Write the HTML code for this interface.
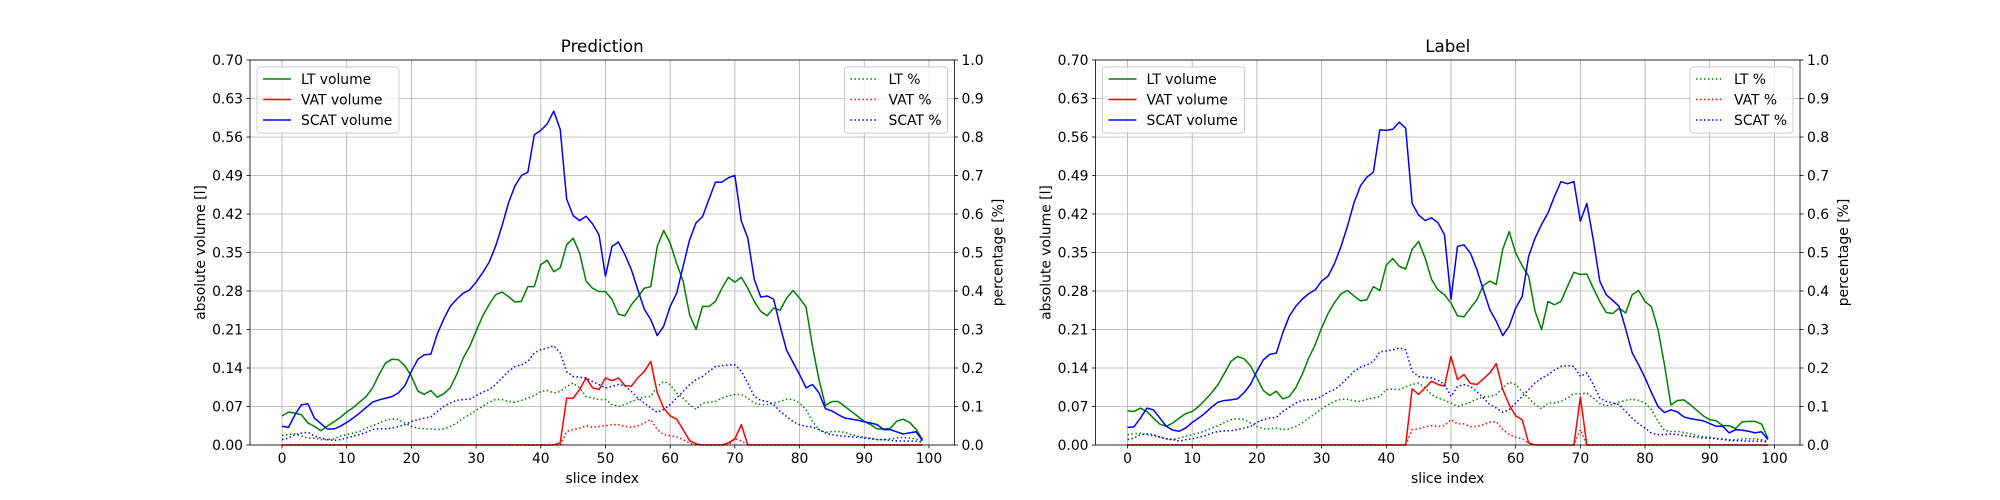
<!DOCTYPE html>
<html><head><meta charset="utf-8">
<style>
html,body{margin:0;padding:0;background:#fff;}
svg{display:block;font-family:"DejaVu Sans","Liberation Sans",sans-serif;}
</style></head>
<body>
<svg id="fig" width="2000" height="500" viewBox="0 0 2000 500" xmlns="http://www.w3.org/2000/svg">
<rect width="2000" height="500" fill="#fff"/>
</svg>
<script>
const sliceCount = 100;
const xTicks = [0,10,20,30,40,50,60,70,80,90,100];
const volTicks = ["0.00","0.07","0.14","0.21","0.28","0.35","0.42","0.49","0.56","0.63","0.70"];
const pctTicks = ["0.0","0.1","0.2","0.3","0.4","0.5","0.6","0.7","0.8","0.9","1.0"];
const panelTitles = ["Prediction","Label"];

const predLTVol = [.053,.060,.058,.055,.040,.034,.026,.034,.042,.050,.060,.068,.078,.088,.104,.128,.149,.156,.155,.144,.125,.098,.092,.099,.087,.093,.104,.128,.158,.179,.207,.234,.255,.273,.278,.270,.260,.261,.288,.288,.328,.336,.315,.322,.364,.376,.349,.298,.285,.279,.279,.265,.238,.235,.255,.269,.285,.288,.361,.390,.367,.330,.298,.237,.210,.252,.252,.261,.285,.305,.296,.305,.285,.261,.243,.235,.249,.245,.267,.281,.267,.251,.179,.119,.072,.079,.079,.070,.061,.052,.043,.037,.029,.029,.030,.043,.047,.041,.029,.010];
const predSCATVol = [.034,.032,.055,.073,.075,.049,.039,.029,.029,.034,.041,.049,.058,.068,.078,.082,.085,.088,.095,.108,.134,.156,.164,.165,.202,.229,.252,.265,.276,.282,.296,.313,.332,.361,.398,.440,.471,.490,.496,.564,.572,.584,.607,.574,.447,.417,.408,.416,.402,.382,.307,.361,.369,.346,.319,.282,.247,.228,.199,.216,.252,.276,.325,.373,.404,.415,.447,.478,.478,.486,.490,.407,.376,.301,.269,.271,.265,.216,.172,.150,.128,.104,.110,.095,.066,.062,.055,.049,.047,.045,.042,.040,.037,.028,.028,.024,.020,.022,.024,.008];
const predVATVol = [0,0,0,0,0,0,0,0,0,0,0,0,0,0,0,0,0,0,0,0,0,0,0,0,0,0,0,0,0,0,0,0,0,0,0,0,0,0,0,0,0,0,0,.004,.085,.085,.101,.122,.104,.101,.122,.117,.122,.108,.107,.122,.134,.152,.095,.067,.053,.047,.028,.008,.002,0,0,0,0,.004,.011,.037,0,0,0,0,0,0,0,0,0,0,0,0,0,0,0,0,0,0,0,0,0,0,0,0,0,0,0,0];
const predLTPct = [.025,.027,.029,.023,.018,.018,.014,.014,.016,.023,.027,.031,.035,.044,.050,.057,.064,.068,.066,.057,.048,.044,.042,.042,.040,.042,.048,.057,.070,.079,.090,.100,.111,.118,.118,.113,.111,.116,.122,.128,.139,.142,.135,.139,.152,.161,.148,.126,.122,.118,.118,.105,.100,.105,.113,.119,.125,.126,.152,.165,.157,.135,.122,.105,.092,.109,.111,.113,.122,.128,.131,.131,.122,.109,.105,.105,.109,.113,.119,.118,.109,.092,.061,.040,.033,.035,.035,.033,.027,.023,.020,.018,.014,.014,.016,.018,.020,.018,.016,.010];
const predSCATPct = [.014,.018,.027,.031,.033,.023,.018,.014,.012,.014,.018,.023,.027,.033,.040,.042,.042,.044,.048,.053,.061,.066,.070,.073,.087,.100,.109,.116,.118,.119,.128,.137,.144,.157,.174,.191,.204,.208,.217,.239,.248,.252,.258,.239,.191,.178,.176,.174,.165,.157,.148,.152,.157,.154,.139,.122,.109,.096,.085,.092,.105,.122,.139,.157,.170,.178,.191,.204,.206,.208,.208,.191,.161,.126,.116,.113,.105,.087,.074,.061,.053,.048,.047,.040,.031,.027,.024,.023,.021,.020,.018,.016,.014,.014,.012,.011,.010,.010,.010,.007];
const predVATPct = [0,0,0,0,0,0,0,0,0,0,0,0,0,0,0,0,0,0,0,0,0,0,0,0,0,0,0,0,0,0,0,0,0,0,0,0,0,0,0,0,0,0,0,0,.035,.040,.044,.050,.046,.048,.050,.053,.053,.048,.046,.050,.057,.066,.040,.027,.024,.021,.014,.005,0,0,0,0,0,0,.016,.011,0,0,0,0,0,0,0,0,0,0,0,0,0,0,0,0,0,0,0,0,0,0,0,0,0,0,0,0];

const labLTVol = [.062,.061,.067,.061,.049,.038,.034,.040,.049,.057,.061,.070,.082,.095,.110,.131,.152,.161,.157,.144,.122,.099,.090,.098,.084,.088,.104,.128,.158,.182,.213,.239,.259,.275,.281,.271,.262,.264,.288,.281,.327,.339,.325,.320,.356,.370,.340,.301,.282,.273,.258,.235,.233,.249,.264,.290,.298,.292,.356,.388,.349,.326,.307,.243,.210,.261,.255,.261,.288,.314,.310,.311,.285,.261,.241,.239,.249,.240,.273,.281,.261,.251,.210,.146,.073,.081,.082,.073,.063,.053,.046,.044,.035,.035,.030,.042,.043,.043,.038,.012];
const labSCATVol = [.032,.033,.049,.067,.064,.049,.034,.027,.025,.031,.041,.049,.058,.069,.078,.081,.082,.084,.095,.110,.134,.155,.165,.167,.204,.234,.252,.265,.275,.282,.298,.307,.330,.361,.398,.440,.471,.487,.496,.573,.572,.574,.587,.576,.439,.418,.408,.413,.404,.382,.265,.361,.364,.349,.319,.282,.246,.225,.199,.216,.249,.270,.343,.376,.401,.422,.452,.479,.475,.479,.407,.439,.373,.298,.273,.263,.252,.211,.168,.146,.122,.095,.070,.059,.064,.060,.051,.048,.046,.044,.039,.034,.034,.022,.028,.027,.025,.022,.024,.010];
const labVATVol = [0,0,0,0,0,0,0,0,0,0,0,0,0,0,0,0,0,0,0,0,0,0,0,0,0,0,0,0,0,0,0,0,0,0,0,0,0,0,0,0,0,0,0,0,.102,.092,.104,.116,.110,.107,.161,.119,.128,.112,.110,.120,.131,.148,.101,.073,.053,.046,.004,0,0,0,0,0,0,0,.087,0,0,0,0,0,0,0,0,0,0,0,0,0,0,0,0,0,0,0,0,0,0,0,0,0,0,0,0,0];
const labLTPct = [.027,.029,.031,.027,.023,.020,.016,.014,.018,.023,.027,.031,.037,.044,.050,.059,.066,.069,.066,.057,.048,.042,.042,.044,.040,.042,.048,.057,.070,.081,.094,.105,.113,.119,.119,.115,.113,.119,.122,.126,.144,.145,.144,.151,.157,.161,.148,.131,.122,.116,.109,.100,.105,.111,.119,.125,.126,.131,.148,.163,.157,.139,.122,.105,.094,.109,.109,.113,.122,.133,.133,.135,.122,.107,.102,.105,.111,.116,.119,.116,.109,.092,.061,.038,.035,.035,.033,.029,.025,.021,.020,.017,.016,.014,.014,.016,.016,.016,.014,.010];
const labSCATPct = [.014,.018,.027,.029,.027,.021,.016,.014,.010,.014,.016,.020,.024,.031,.035,.037,.037,.040,.044,.048,.059,.066,.070,.072,.087,.098,.109,.116,.118,.119,.126,.137,.144,.157,.174,.191,.202,.208,.217,.242,.244,.247,.252,.247,.191,.178,.176,.174,.168,.157,.126,.152,.157,.152,.139,.122,.105,.096,.085,.092,.109,.126,.144,.161,.174,.182,.195,.204,.206,.204,.178,.187,.157,.122,.113,.109,.105,.087,.070,.055,.044,.031,.027,.027,.029,.027,.024,.023,.020,.018,.018,.016,.014,.012,.011,.011,.010,.010,.010,.007];
const labVATPct = [0,0,0,0,0,0,0,0,0,0,0,0,0,0,0,0,0,0,0,0,0,0,0,0,0,0,0,0,0,0,0,0,0,0,0,0,0,0,0,0,0,0,0,0,.040,.042,.047,.050,.048,.050,.066,.055,.055,.048,.048,.053,.059,.061,.040,.027,.020,.016,.005,0,0,0,0,0,0,0,.040,0,0,0,0,0,0,0,0,0,0,0,0,0,0,0,0,0,0,0,0,0,0,0,0,0,0,0,0,0];

const NS = "http://www.w3.org/2000/svg";
const svg = document.getElementById("fig");
function mk(tag, attrs, parent, text) {
  const e = document.createElementNS(NS, tag);
  for (const k in attrs) e.setAttribute(k, attrs[k]);
  if (text !== undefined) e.textContent = text;
  (parent || svg).appendChild(e);
  return e;
}
const TOP = 60, BOT = 445;
const XMIN = -4.95, XMAX = 103.95;
const GREEN = "#008000", RED = "#ff0000", BLUE = "#0000ff";

function drawPanel(left, title, series, key) {
  const right = left + 704.5;
  const xs = v => left + (v - XMIN) / (XMAX - XMIN) * (right - left);
  const yv = v => BOT - v / 0.7 * (BOT - TOP);
  const yp = v => BOT - v / 1.0 * (BOT - TOP);
  const g = mk("g", {});
  
  
  // grid
  xTicks.forEach(t => {
    const l = mk("line", {x1: xs(t), x2: xs(t), y1: TOP, y2: BOT, stroke: "#b0b0b0", "stroke-width": 0.8}, g);
    
    
  });
  volTicks.forEach(t => {
    const y = yv(parseFloat(t));
    const l = mk("line", {x1: left, x2: right, y1: y, y2: y, stroke: "#b0b0b0", "stroke-width": 0.8}, g);
    
    
  });
  // series
  function line(vals, ymap, color, dotted, name) {
    const pts = vals.map((v, i) => xs(i).toFixed(2) + "," + ymap(v).toFixed(2)).join(" ");
    const attrs = {points: pts, fill: "none", stroke: color, "stroke-width": 1.5, "stroke-linejoin": "round"};
    if (dotted) { attrs["stroke-dasharray"] = "1.5 2.475"; }
    const p = mk("polyline", attrs, g);
    
    
  }
  line(series.ltV, yv, GREEN, false, key + '-lt-volume-line');
  line(series.vatV, yv, RED, false, key + '-vat-volume-line');
  line(series.scatV, yv, BLUE, false, key + '-scat-volume-line');
  line(series.ltP, yp, GREEN, true, key + '-lt-percent-line');
  line(series.vatP, yp, RED, true, key + '-vat-percent-line');
  line(series.scatP, yp, BLUE, true, key + '-scat-percent-line');
  // frame
  const fr = mk("rect", {x: left, y: TOP, width: right - left, height: BOT - TOP, fill: "none", stroke: "#000", "stroke-width": 0.8}, g);
  
  
  // x ticks
  xTicks.forEach(t => {
    mk("line", {x1: xs(t), x2: xs(t), y1: BOT, y2: BOT + 3.5, stroke: "#000", "stroke-width": 0.8}, g);
    const tx = mk("text", {x: xs(t), y: BOT + 18, "font-size": 13.9, "text-anchor": "middle", fill: "#000"}, g, String(t));
    
    
  });
  volTicks.forEach(t => {
    const y = yv(parseFloat(t));
    mk("line", {x1: left - 3.5, x2: left, y1: y, y2: y, stroke: "#000", "stroke-width": 0.8}, g);
    const tx = mk("text", {x: left - 7, y: y + 5, "font-size": 13.9, "text-anchor": "end", fill: "#000"}, g, t);
    
    
  });
  pctTicks.forEach(t => {
    const y = yp(parseFloat(t));
    mk("line", {x1: right, x2: right + 3.5, y1: y, y2: y, stroke: "#000", "stroke-width": 0.8}, g);
    const tx = mk("text", {x: right + 7, y: y + 5, "font-size": 13.9, "text-anchor": "start", fill: "#000"}, g, t);
    
    
  });
  const xl = mk("text", {x: (left + right) / 2, y: 483, "font-size": 13.9, "text-anchor": "middle"}, g, "slice index");
  
  
  const yl = mk("text", {x: 0, y: 0, "font-size": 13.9, "text-anchor": "middle", transform: `translate(${left - 45},${(TOP + BOT) / 2}) rotate(-90)`}, g, "absolute volume [l]");
  
  
  const yr = mk("text", {x: 0, y: 0, "font-size": 13.9, "text-anchor": "middle", transform: `translate(${right + 48},${(TOP + BOT) / 2}) rotate(-90)`}, g, "percentage [%]");
  
  
  const tt = mk("text", {x: (left + right) / 2, y: 52, "font-size": 16.7, "text-anchor": "middle"}, g, title);
  
  
  // legends
  function legend(x0, x1, entries, dotted, name) {
    const lg = mk("g", {}, g);
    
    
    mk("rect", {x: x0, y: 67, width: x1 - x0, height: 66, rx: 3, fill: "#fff", "fill-opacity": 0.8, stroke: "#cccccc", "stroke-width": 1}, lg);
    entries.forEach((en, k) => {
      const y = 79 + k * 20.5;
      const a = {x1: x0 + 6, x2: x0 + 34, y1: y, y2: y, stroke: en[1], "stroke-width": 1.5};
      if (dotted) a["stroke-dasharray"] = "1.5 2.475";
      mk("line", a, lg);
      const t = mk("text", {x: x0 + 44, y: y + 5, "font-size": 13.9}, lg, en[0]);
      
      
    });
  }
  legend(left + 7, left + 149, [["LT volume", GREEN], ["VAT volume", RED], ["SCAT volume", BLUE]], false, key + '-volume-legend');
  legend(right - 110, right - 7, [["LT %", GREEN], ["VAT %", RED], ["SCAT %", BLUE]], true, key + '-percent-legend');
}

drawPanel(250, panelTitles[0], {ltV: predLTVol, vatV: predVATVol, scatV: predSCATVol, ltP: predLTPct, vatP: predVATPct, scatP: predSCATPct}, 'prediction');
drawPanel(1095.5, panelTitles[1], {ltV: labLTVol, vatV: labVATVol, scatV: labSCATVol, ltP: labLTPct, vatP: labVATPct, scatP: labSCATPct}, 'label');
</script>
</body></html>
